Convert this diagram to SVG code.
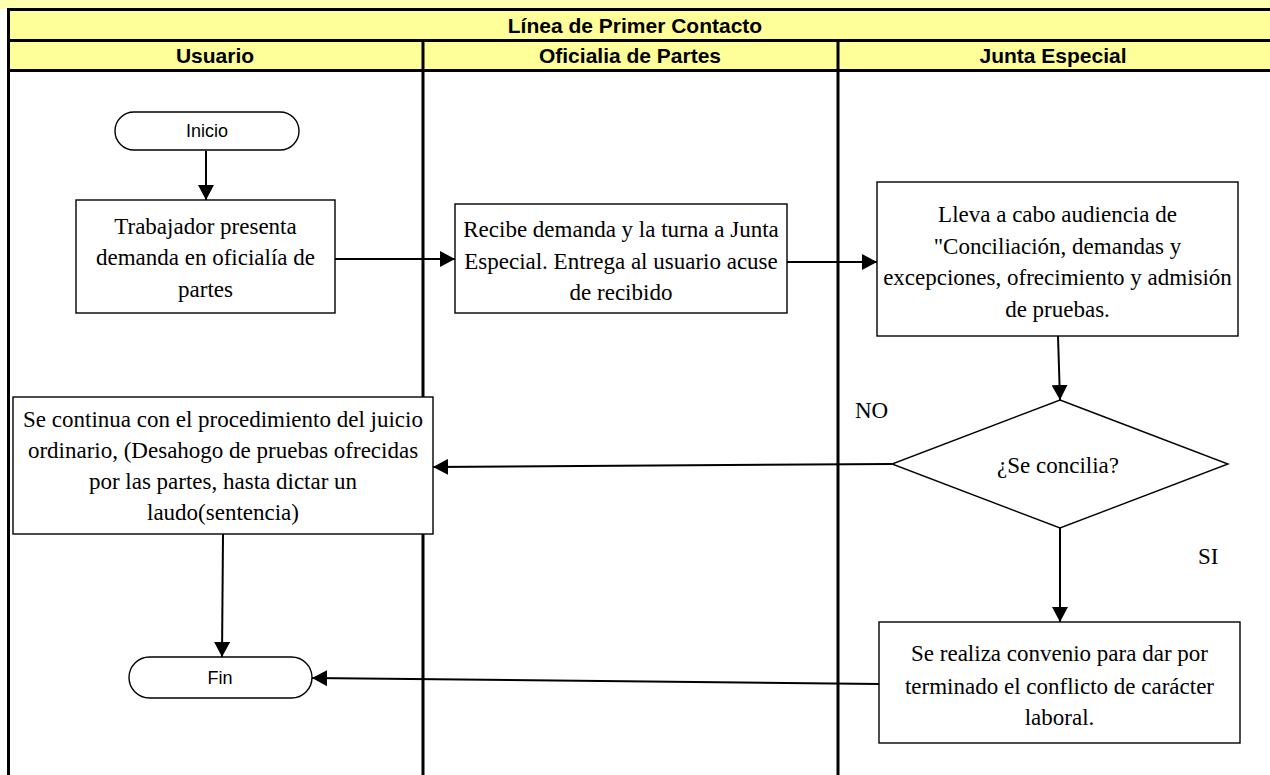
<svg xmlns="http://www.w3.org/2000/svg" width="1270" height="775" viewBox="0 0 1270 775">
<style>
.hdr{font-family:"Liberation Sans",Arial,sans-serif;font-weight:bold;font-size:21px;text-anchor:middle;fill:#000}
.t{font-family:"Liberation Serif","Times New Roman",serif;font-size:23px;text-anchor:middle;fill:#000}
.lbl{font-family:"Liberation Serif","Times New Roman",serif;font-size:23px;fill:#000}
.term{font-family:"Liberation Sans",Arial,sans-serif;font-size:18px;text-anchor:middle;fill:#000}
.box{fill:#fff;stroke:#000;stroke-width:1.4}
.lane{stroke:#000;stroke-width:3;fill:none}
.conn{stroke:#000;stroke-width:2;fill:none;marker-end:url(#ah)}
</style>
<defs>
<marker id="ah" markerUnits="userSpaceOnUse" markerWidth="16" markerHeight="16" refX="15" refY="8" orient="auto">
<path d="M0,0 L15,8 L0,16 z" fill="#000"/>
</marker>
</defs>
<rect x="0" y="0" width="1270" height="775" fill="#fff"/>
<rect x="0" y="0" width="1270" height="9" fill="#FFFFB0"/>
<g id="header">
<rect x="8" y="9" width="1262" height="62" fill="#FFFF99"/>
<line class="lane" x1="7" y1="9.5" x2="1270" y2="9.5"/>
<line class="lane" x1="7" y1="40.5" x2="1270" y2="40.5"/>
<line class="lane" x1="7" y1="70.5" x2="1270" y2="70.5"/>
<text class="hdr" x="635" y="33">Línea de Primer Contacto</text>
<text class="hdr" x="215" y="63">Usuario</text>
<text class="hdr" x="630" y="63">Oficialia de Partes</text>
<text class="hdr" x="1053" y="63">Junta Especial</text>
</g>
<g id="lanes">
<line class="lane" x1="8.5" y1="8" x2="8.5" y2="775"/>
<line class="lane" x1="423" y1="40" x2="423" y2="775"/>
<line class="lane" x1="838" y1="40" x2="838" y2="775"/>
</g>
<g id="connectors">
<line class="conn" x1="206" y1="151" x2="206" y2="200"/>
<line class="conn" x1="335" y1="259" x2="455" y2="259"/>
<line class="conn" x1="787" y1="262" x2="877" y2="262"/>
<line class="conn" x1="1058" y1="336" x2="1060" y2="400"/>
<line class="conn" x1="892" y1="464" x2="433" y2="467"/>
<line class="conn" x1="1060" y1="528" x2="1060" y2="622"/>
<line class="conn" x1="223" y1="534" x2="222" y2="657"/>
<line class="conn" x1="879" y1="684" x2="312" y2="678"/>
</g>
<g id="inicio">
<rect class="box" x="115" y="112" width="184" height="38" rx="19" ry="19"/>
<text class="term" x="207" y="137">Inicio</text>
</g>
<g id="trabajador">
<rect class="box" x="76" y="200" width="259" height="113"/>
<text class="t" x="205.5" y="234">Trabajador presenta</text>
<text class="t" x="205.5" y="265">demanda en oficialía de</text>
<text class="t" x="205.5" y="297">partes</text>
</g>
<g id="recibe">
<rect class="box" x="455" y="204" width="332" height="109"/>
<text class="t" x="621" y="237">Recibe demanda y la turna a Junta</text>
<text class="t" x="621" y="269">Especial. Entrega al usuario acuse</text>
<text class="t" x="621" y="300">de recibido</text>
</g>
<g id="audiencia">
<rect class="box" x="877" y="182" width="361" height="154"/>
<text class="t" x="1057.5" y="222">Lleva a cabo audiencia de</text>
<text class="t" x="1057.5" y="254">"Conciliación, demandas y</text>
<text class="t" x="1057.5" y="285">excepciones, ofrecimiento y admisión</text>
<text class="t" x="1057.5" y="317">de pruebas.</text>
</g>
<g id="concilia">
<polygon class="box" points="1060,400 1228,464 1060,528 892,464"/>
<text class="t" x="1058" y="473">¿Se concilia?</text>
</g>
<g id="labels">
<text class="lbl" x="855" y="418">NO</text>
<text class="lbl" x="1198" y="564">SI</text>
</g>
<g id="juicio">
<rect class="box" x="13" y="397" width="420" height="137"/>
<text class="t" x="223" y="427">Se continua con el procedimiento del juicio</text>
<text class="t" x="223" y="458">ordinario, (Desahogo de pruebas ofrecidas</text>
<text class="t" x="223" y="489">por las partes, hasta dictar un</text>
<text class="t" x="223" y="520">laudo(sentencia)</text>
</g>
<g id="convenio">
<rect class="box" x="879" y="622" width="361" height="121"/>
<text class="t" x="1059.5" y="661">Se realiza convenio para dar por</text>
<text class="t" x="1059.5" y="694">terminado el conflicto de carácter</text>
<text class="t" x="1059.5" y="725">laboral.</text>
</g>
<g id="fin">
<rect class="box" x="129" y="657" width="183" height="41" rx="20.5" ry="20.5"/>
<text class="term" x="220" y="684">Fin</text>
</g>
</svg>
